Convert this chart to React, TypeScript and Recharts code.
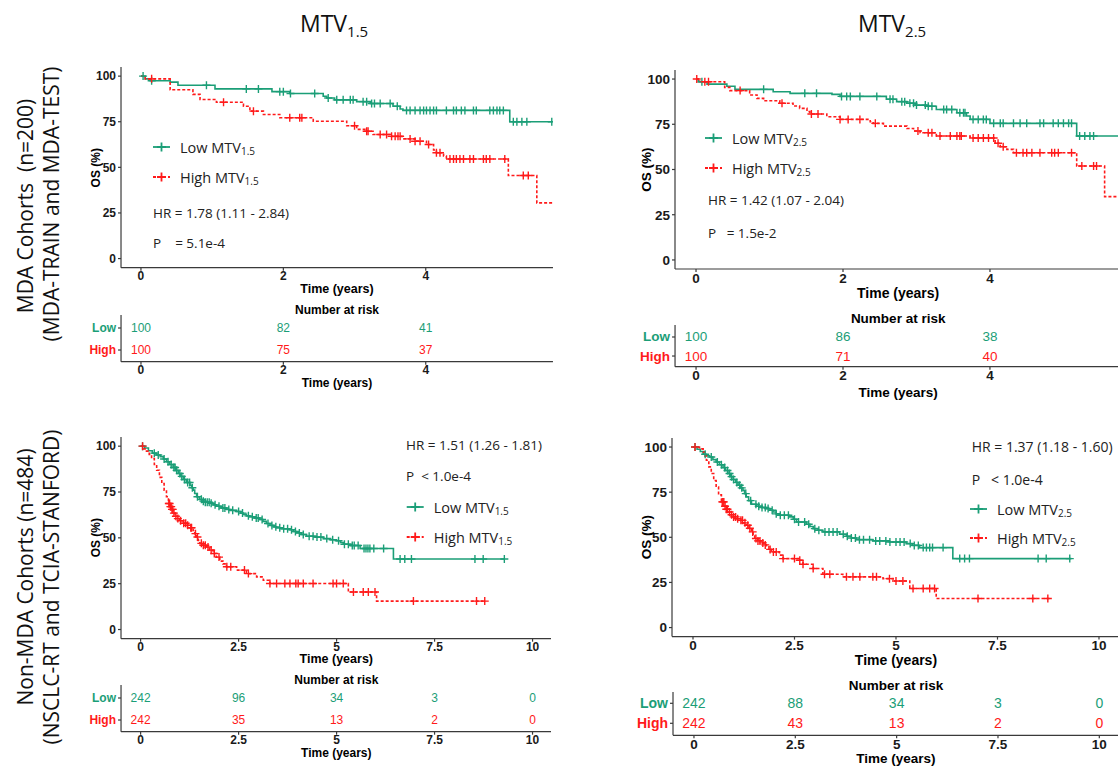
import React from 'react';
import { ComposedChart, Line, XAxis, YAxis } from 'recharts';

const GREEN = '#1b9e77';
const RED = '#ff1a1a';
const AXIS = '#3a3a3a';
const SANS = '"Open Sans", "Noto Sans", sans-serif';
const ARIAL = '"Liberation Sans", Arial, sans-serif';

type Step = [number, number];

// axis ticks
const osTicks = [0, 25, 50, 75, 100];
const mdaTimeTicks = [0, 2, 4];
const nonMdaTimeTicks = [0, 2.5, 5, 7.5, 10];

// ---- MDA cohorts, MTV 1.5 ----
const mda15Low: Step[] = [
  [0, 100], [0.06, 98.5], [0.13, 97.5], [0.41, 96.7], [0.52, 95], [1.04, 93], [1.84, 91.5], [2.09, 90.5],
  [2.56, 89], [2.61, 88], [2.72, 87], [3.03, 86], [3.22, 85], [3.54, 83.5], [3.64, 82], [3.68, 81.2],
  [5.18, 75], [5.78, 75],
];
const mda15LowCensor = [
  0.03, 0.15, 0.92, 1.48, 1.65, 1.95, 2.0, 2.1, 2.44, 2.63, 2.75, 2.84, 2.94, 2.98, 3.12, 3.17, 3.24, 3.28,
  3.36, 3.5, 3.6, 3.73, 3.78, 3.85, 3.92, 3.97, 4.01, 4.06, 4.11, 4.15, 4.29, 4.39, 4.43, 4.5, 4.55, 4.67,
  4.71, 4.9, 4.95, 5.0, 5.04, 5.09, 5.23, 5.28, 5.35, 5.42, 5.77,
];
const mda15High: Step[] = [
  [0, 100], [0.06, 98.5], [0.41, 92.5], [0.73, 90], [0.83, 87.2], [1.06, 85.7], [1.44, 83.5], [1.53, 80.8],
  [1.72, 79], [1.95, 77.2], [2.42, 75.3], [2.89, 72.8], [3.03, 70.8], [3.17, 69.8], [3.26, 68], [3.5, 67],
  [3.68, 65.6], [3.85, 64.3], [4.01, 62.5], [4.11, 59.5], [4.15, 58], [4.25, 56.2], [4.29, 54.6],
  [5.16, 45.5], [5.56, 30.5], [5.78, 30.5],
];
const mda15HighCensor = [
  0.15, 1.16, 1.58, 2.09, 2.23, 2.26, 3.0, 3.17, 3.19, 3.36, 3.45, 3.52, 3.57, 3.61, 3.64, 3.78, 3.85, 3.92,
  4.04, 4.15, 4.2, 4.34, 4.39, 4.43, 4.48, 4.53, 4.62, 4.67, 4.81, 4.85, 4.9, 5.11, 5.37, 5.44,
];
const mda15RiskLow = [100, 82, 41];
const mda15RiskHigh = [100, 75, 37];

// ---- MDA cohorts, MTV 2.5 ----
const mda25Low: Step[] = [
  [0, 100], [0.03, 98.5], [0.15, 97.2], [0.42, 96], [0.53, 94.3], [1.05, 93], [1.28, 92.1], [1.85, 91.5],
  [1.96, 90.4], [2.59, 88.8], [2.73, 87.5], [2.87, 86.6], [2.98, 85.6], [3.14, 85], [3.27, 83.2],
  [3.55, 81.4], [3.68, 79.6], [3.73, 77.7], [4.0, 75.5], [5.18, 68.5], [5.78, 68.5],
];
const mda25LowCensor = [
  0.08, 0.92, 1.48, 1.64, 1.98, 2.05, 2.1, 2.23, 2.46, 2.64, 2.68, 2.8, 2.84, 2.91, 2.96, 3.0, 3.12, 3.16,
  3.21, 3.37, 3.41, 3.48, 3.59, 3.64, 3.66, 3.77, 3.84, 3.91, 3.95, 4.05, 4.14, 4.18, 4.32, 4.41, 4.5, 4.68,
  4.73, 4.86, 4.93, 5.0, 5.07, 5.11, 5.22, 5.29, 5.36, 5.41,
];
const mda25High: Step[] = [
  [0, 100], [0.05, 98.5], [0.39, 95.4], [0.46, 93.6], [0.73, 91.2], [0.83, 89.3], [0.92, 88], [1.14, 86.6],
  [1.32, 85.1], [1.41, 83.8], [1.51, 82], [1.55, 80.7], [1.78, 79.2], [1.96, 77.7], [2.37, 76.4],
  [2.41, 75.5], [2.55, 74], [2.87, 72.7], [2.96, 71.3], [3.05, 70.3], [3.27, 68.5], [3.73, 67.4],
  [4.07, 64.5], [4.14, 62.6], [4.23, 61.1], [4.32, 59.3], [5.18, 51.9], [5.56, 35], [5.78, 35],
];
const mda25HighCensor = [
  0.01, 0.12, 0.17, 0.6, 1.17, 1.57, 1.66, 1.96, 2.07, 2.23, 2.44, 3.02, 3.16, 3.21, 3.32, 3.46, 3.55, 3.59,
  3.61, 3.77, 3.84, 3.91, 3.98, 4.05, 4.11, 4.18, 4.36, 4.45, 4.5, 4.57, 4.68, 4.84, 4.88, 4.93, 5.11, 5.25,
  5.41, 5.45,
];
const mda25RiskLow = [100, 86, 38];
const mda25RiskHigh = [100, 71, 40];

// ---- Non-MDA cohorts, MTV 1.5 ----
const non15Low: Step[] = [
  [0, 100], [0.1, 99], [0.2, 97.5], [0.3, 96.2], [0.4, 95.2], [0.5, 94.3], [0.58, 93], [0.66, 91.5],
  [0.74, 90], [0.83, 88.4], [0.9, 86.8], [0.96, 85.1], [1.02, 83.5], [1.09, 81.8], [1.17, 80.2],
  [1.26, 78.7], [1.3, 77.3], [1.34, 76], [1.38, 74.2], [1.43, 72.4], [1.5, 71], [1.56, 70], [1.65, 69.4],
  [1.77, 68.9], [1.85, 68], [1.94, 67.2], [2.05, 66.3], [2.2, 65.5], [2.28, 65], [2.45, 64.4],
  [2.55, 63.5], [2.62, 62.8], [2.7, 62], [2.79, 61.5], [2.9, 60.8], [3.04, 60], [3.12, 59], [3.21, 57.8],
  [3.3, 56.8], [3.4, 56], [3.47, 55.5], [3.6, 55], [3.81, 54.4], [3.9, 53.5], [3.98, 52.7], [4.1, 51.8],
  [4.23, 50.9], [4.45, 50.4], [4.66, 49.6], [4.85, 49], [5.0, 48.4], [5.1, 47.5], [5.17, 46.5],
  [5.35, 45.8], [5.6, 44.2], [6.45, 38.5], [9.29, 38.5],
];
const non15LowCensor = [
  0.05, 0.35, 0.45, 0.6, 0.7, 0.78, 0.85, 0.88, 0.92, 1.0, 1.05, 1.12, 1.2, 1.25, 1.32, 1.45, 1.55, 1.6,
  1.65, 1.7, 1.75, 1.8, 1.9, 2.0, 2.1, 2.15, 2.25, 2.35, 2.5, 2.6, 2.75, 2.85, 2.95, 3.0, 3.1, 3.25, 3.35,
  3.45, 3.55, 3.65, 3.75, 3.85, 3.95, 4.05, 4.15, 4.3, 4.4, 4.5, 4.6, 4.75, 4.9, 5.05, 5.2, 5.3, 5.4, 5.45,
  5.55, 5.7, 5.75, 5.8, 5.85, 5.95, 6.2, 6.62, 6.74, 6.91, 8.53, 8.74, 9.28,
];
const non15High: Step[] = [
  [0, 100], [0.07, 98.5], [0.15, 97.3], [0.22, 95.5], [0.28, 93.3], [0.35, 90], [0.41, 86.9], [0.48, 83],
  [0.54, 79.6], [0.6, 76], [0.66, 72.4], [0.71, 68.7], [0.75, 67], [0.79, 65.5], [0.84, 63.5], [0.88, 61.8],
  [0.94, 60.5], [1.0, 59.3], [1.08, 58], [1.17, 56.9], [1.25, 55.5], [1.34, 54], [1.38, 52.3], [1.43, 50.5],
  [1.47, 48.6], [1.51, 47], [1.6, 46], [1.68, 45], [1.76, 43.3], [1.85, 41.5], [1.93, 39.5], [2.02, 37.3],
  [2.1, 35.8], [2.19, 34.2], [2.45, 32.4], [2.7, 30.5], [2.96, 28.7], [3.13, 26.9], [3.3, 25.1],
  [5.3, 20.5], [6.02, 15.5], [8.78, 15.5],
];
const non15HighCensor = [
  0.05, 0.72, 0.74, 0.76, 0.78, 0.8, 0.82, 0.85, 0.9, 0.95, 1.02, 1.1, 1.15, 1.2, 1.28, 1.3, 1.4, 1.45,
  1.55, 1.6, 1.65, 1.72, 1.8, 1.88, 2.0, 2.2, 2.3, 2.65, 2.75, 3.3, 3.47, 3.68, 3.81, 3.96, 4.02, 4.15,
  4.4, 4.91, 5.0, 5.17, 5.43, 5.68, 5.81, 5.98, 6.96, 8.57, 8.78,
];
const non15RiskLow = [242, 96, 34, 3, 0];
const non15RiskHigh = [242, 35, 13, 2, 0];

// ---- Non-MDA cohorts, MTV 2.5 ----
const non25Low: Step[] = [
  [0, 100], [0.1, 98.8], [0.18, 97.5], [0.25, 96], [0.33, 95.2], [0.41, 94.5], [0.49, 93], [0.57, 91.7],
  [0.65, 90.2], [0.74, 88.6], [0.8, 87], [0.86, 85.3], [0.92, 83.6], [0.99, 82], [1.05, 80.4], [1.11, 78.8],
  [1.17, 77.4], [1.23, 76], [1.27, 74.2], [1.31, 72.4], [1.37, 70.3], [1.44, 68.3], [1.56, 67.2],
  [1.7, 66.5], [1.81, 65.9], [1.9, 65], [1.97, 64], [2.05, 63], [2.13, 62.2], [2.38, 61.3], [2.47, 60],
  [2.55, 58.5], [2.79, 57.2], [2.88, 56], [2.96, 54.8], [3.08, 53.9], [3.2, 53], [3.61, 51.7], [3.78, 50.6],
  [3.9, 49.6], [4.02, 48.7], [4.43, 48], [4.84, 47.4], [5.25, 46.5], [5.4, 45.5], [5.58, 44.3],
  [6.4, 38.2], [9.32, 38.2],
];
const non25LowCensor = [
  0.05, 0.3, 0.45, 0.6, 0.7, 0.78, 0.85, 0.9, 0.95, 1.0, 1.08, 1.15, 1.2, 1.3, 1.42, 1.55, 1.62, 1.7, 1.78,
  1.85, 1.95, 2.05, 2.15, 2.25, 2.35, 2.5, 2.6, 2.75, 2.85, 3.0, 3.1, 3.25, 3.35, 3.45, 3.55, 3.7, 3.8, 3.9,
  4.0, 4.1, 4.2, 4.35, 4.5, 4.6, 4.75, 4.85, 5.0, 5.1, 5.2, 5.35, 5.45, 5.55, 5.67, 5.75, 5.83, 5.9, 6.16,
  6.57, 6.69, 6.81, 8.5, 8.7, 9.28,
];
const non25High: Step[] = [
  [0, 100], [0.16, 99], [0.25, 97.3], [0.29, 95], [0.33, 92.7], [0.39, 89], [0.45, 85.3], [0.51, 81.5],
  [0.57, 77.9], [0.63, 73.5], [0.7, 69.6], [0.78, 67.2], [0.82, 65.5], [0.86, 64], [0.93, 62.5],
  [0.99, 61.3], [1.07, 60.3], [1.15, 59.4], [1.23, 58], [1.31, 56.7], [1.38, 55], [1.44, 53], [1.48, 51],
  [1.52, 49.3], [1.6, 48], [1.68, 46.9], [1.75, 45.8], [1.81, 44.7], [1.87, 43.3], [1.93, 41.9],
  [2.13, 40.1], [2.22, 38.2], [2.63, 37.3], [2.71, 35.1], [2.96, 32.7], [3.2, 29.5], [3.69, 28.1],
  [4.68, 27.1], [4.93, 25.8], [5.34, 21.6], [5.99, 16.1], [8.78, 16.1],
];
const non25HighCensor = [
  0.05, 0.72, 0.74, 0.76, 0.79, 0.82, 0.85, 0.9, 0.95, 1.0, 1.05, 1.1, 1.18, 1.22, 1.28, 1.35, 1.4, 1.47,
  1.55, 1.6, 1.65, 1.72, 1.78, 1.9, 1.98, 2.05, 2.22, 2.5, 2.63, 2.71, 2.96, 3.24, 3.37, 3.78, 3.94, 4.11,
  4.43, 4.52, 4.84, 5.0, 5.17, 5.42, 5.67, 5.83, 5.95, 7.02, 8.37, 8.74,
];
const non25RiskLow = [242, 88, 34, 3, 0];
const non25RiskHigh = [242, 43, 13, 2, 0];

// ---- helpers ----
const survAt = (steps: Step[], t: number) => {
  let s = steps[0][1];
  for (const [ti, si] of steps) {
    if (ti <= t) s = si;
    else break;
  }
  return s;
};
const toLine = (steps: Step[]) => steps.map(([t, s]) => ({ t, s }));
const toCensor = (steps: Step[], times: number[]) => times.map((t) => ({ t, s: survAt(steps, t) }));

const plusDot = (color: string) => (p: any) => {
  if (p.cx == null || p.cy == null) return <g key={`n${p.index}`} />;
  return (
    <path
      key={`c${p.index}`}
      d={`M${p.cx - 4},${p.cy}h8M${p.cx},${p.cy - 4}v8`}
      stroke={color}
      strokeWidth={1.4}
      fill="none"
    />
  );
};

const textDot = (color: string, size: number) => (p: any) => {
  if (p.cx == null || p.cy == null) return <g key={`n${p.index}`} />;
  return (
    <text key={`r${p.index}`} x={p.cx} y={p.cy} textAnchor="middle" dominantBaseline="central"
      fontFamily={ARIAL} fontSize={size} fill={color}>
      {p.payload.n}
    </text>
  );
};

interface Box { left: number; top: number; right: number; bottom: number }
interface Panel {
  km: Box; risk: Box; xDomain: [number, number]; xTicks: number[]; riskY: [number, number];
  low: Step[]; lowC: number[]; high: Step[]; highC: number[];
  riskLow: number[]; riskHigh: number[];
  sub: string; hr: string; p: string;
  legendX: number; legendY: [number, number]; hrX: number; hrY: [number, number];
  osX: number; timeY: number; narY: number; riskTimeY: number;
  tickFont: number; riskFont: number; statFont: number;
}

const panels: Panel[] = [
  {
    km: { left: 121, top: 67.4, right: 553, bottom: 268.1 },
    risk: { left: 121, top: 315, right: 553, bottom: 361.7 },
    xDomain: [-0.28, 5.787], xTicks: mdaTimeTicks, riskY: [0.47, 2.59],
    low: mda15Low, lowC: mda15LowCensor, high: mda15High, highC: mda15HighCensor,
    riskLow: mda15RiskLow, riskHigh: mda15RiskHigh,
    sub: '1.5', hr: 'HR = 1.78 (1.11 - 2.84)', p: 'P    = 5.1e-4',
    legendX: 153, legendY: [147, 177], hrX: 153, hrY: [213, 243],
    osX: 96, timeY: 289, narY: 310, riskTimeY: 383,
    tickFont: 12, riskFont: 12, statFont: 13.5,
  },
  {
    km: { left: 675, top: 70, right: 1121.3, bottom: 269 },
    risk: { left: 675, top: 325, right: 1121.3, bottom: 366.7 },
    xDomain: [-0.286, 5.787], xTicks: mdaTimeTicks, riskY: [0.44, 2.63],
    low: mda25Low, lowC: mda25LowCensor, high: mda25High, highC: mda25HighCensor,
    riskLow: mda25RiskLow, riskHigh: mda25RiskHigh,
    sub: '2.5', hr: 'HR = 1.42 (1.07 - 2.04)', p: 'P   = 1.5e-2',
    legendX: 705, legendY: [138, 168], hrX: 708, hrY: [200, 233],
    osX: 646, timeY: 293, narY: 318, riskTimeY: 392,
    tickFont: 13.5, riskFont: 13.5, statFont: 13.5,
  },
  {
    km: { left: 121.1, top: 436.8, right: 551.5, bottom: 638.5 },
    risk: { left: 121.1, top: 685, right: 551.5, bottom: 731.7 },
    xDomain: [-0.5, 10.48], xTicks: nonMdaTimeTicks, riskY: [0.47, 2.59],
    low: non15Low, lowC: non15LowCensor, high: non15High, highC: non15HighCensor,
    riskLow: non15RiskLow, riskHigh: non15RiskHigh,
    sub: '1.5', hr: 'HR = 1.51 (1.26 - 1.81)', p: 'P  < 1.0e-4',
    legendX: 406.7, legendY: [507, 537], hrX: 406, hrY: [445, 476],
    osX: 96, timeY: 659, narY: 680, riskTimeY: 753,
    tickFont: 12, riskFont: 12, statFont: 13.5,
  },
  {
    km: { left: 672.3, top: 437.7, right: 1119.6, bottom: 636.3 },
    risk: { left: 673, top: 691.7, right: 1119.6, bottom: 735 },
    xDomain: [-0.517, 10.5], xTicks: nonMdaTimeTicks, riskY: [0.4, 2.565],
    low: non25Low, lowC: non25LowCensor, high: non25High, highC: non25HighCensor,
    riskLow: non25RiskLow, riskHigh: non25RiskHigh,
    sub: '2.5', hr: 'HR = 1.37 (1.18 - 1.60)', p: 'P   < 1.0e-4',
    legendX: 970, legendY: [509, 538], hrX: 971.7, hrY: [446, 479],
    osX: 646, timeY: 660, narY: 685, riskTimeY: 758.5,
    tickFont: 13.5, riskFont: 14, statFont: 14,
  },
];

// row titles on the left: [text, x, y]
const rowTitles: [string, number, number][] = [
  ['MDA Cohorts  (n=200)', 25, 206],
  ['(MDA-TRAIN and MDA-TEST)', 51, 204],
  ['Non-MDA Cohorts (n=484)', 25, 577],
  ['(NSCLC-RT and TCIA-STANFORD)', 51, 587],
];

const riskTimesFor = (p: Panel) => p.xTicks.slice(0, p.riskLow.length);

const YW = 40;
const XH = 22;

function KMChart({ p }: { p: Panel }) {
  const w = p.km.right - p.km.left;
  const h = p.km.bottom - p.km.top;
  const tick = { fontSize: p.tickFont, fontWeight: 700, fill: '#1a1a1a', fontFamily: ARIAL };
  return (
    <div style={{ position: 'absolute', left: p.km.left - YW, top: p.km.top }}>
      <ComposedChart width={w + YW} height={h + XH} margin={{ top: 0, right: 0, bottom: 0, left: 0 }}>
        <XAxis type="number" dataKey="t" domain={p.xDomain} ticks={p.xTicks} interval={0} allowDataOverflow
          height={XH} tickSize={3} tickMargin={1} tick={tick} stroke={AXIS} strokeWidth={1.2} />
        <YAxis type="number" domain={[-5, 105]} ticks={osTicks} interval={0} allowDataOverflow
          width={YW} tickSize={3} tickMargin={2} tick={tick} stroke={AXIS} strokeWidth={1.2} />
        <Line data={toLine(p.low)} dataKey="s" type="stepAfter" stroke={GREEN} strokeWidth={1.6}
          dot={false} activeDot={false} isAnimationActive={false} />
        <Line data={toLine(p.high)} dataKey="s" type="stepAfter" stroke={RED} strokeWidth={1.6}
          strokeDasharray="3 2" dot={false} activeDot={false} isAnimationActive={false} />
        <Line data={toCensor(p.low, p.lowC)} dataKey="s" stroke="none" dot={plusDot(GREEN)}
          activeDot={false} isAnimationActive={false} />
        <Line data={toCensor(p.high, p.highC)} dataKey="s" stroke="none" dot={plusDot(RED)}
          activeDot={false} isAnimationActive={false} />
      </ComposedChart>
    </div>
  );
}

function RiskChart({ p }: { p: Panel }) {
  const w = p.risk.right - p.risk.left;
  const h = p.risk.bottom - p.risk.top;
  const tick = { fontSize: p.tickFont, fontWeight: 700, fill: '#1a1a1a', fontFamily: ARIAL };
  const times = riskTimesFor(p);
  const lowRows = times.map((t, i) => ({ t, r: 2, n: p.riskLow[i] }));
  const highRows = times.map((t, i) => ({ t, r: 1, n: p.riskHigh[i] }));
  const rowTick = (props: any) => {
    const isLow = props.payload.value === 2;
    return (
      <text x={props.x} y={props.y} textAnchor="end" dominantBaseline="central" fontFamily={ARIAL}
        fontWeight={700} fontSize={p.riskFont} fill={isLow ? GREEN : RED}>
        {isLow ? 'Low' : 'High'}
      </text>
    );
  };
  return (
    <div style={{ position: 'absolute', left: p.risk.left - YW, top: p.risk.top }}>
      <ComposedChart width={w + YW} height={h + XH} margin={{ top: 0, right: 0, bottom: 0, left: 0 }}>
        <XAxis type="number" dataKey="t" domain={p.xDomain} ticks={p.xTicks} interval={0} allowDataOverflow
          height={XH} tickSize={3} tickMargin={1} tick={tick} stroke={AXIS} strokeWidth={1.2} />
        <YAxis type="number" domain={p.riskY} ticks={[1, 2]} interval={0} allowDataOverflow
          width={YW} tickSize={3} tickMargin={2} tick={rowTick} stroke={AXIS} strokeWidth={1.2} />
        <Line data={lowRows} dataKey="r" stroke="none" dot={textDot(GREEN, p.riskFont)}
          activeDot={false} isAnimationActive={false} />
        <Line data={highRows} dataKey="r" stroke="none" dot={textDot(RED, p.riskFont)}
          activeDot={false} isAnimationActive={false} />
      </ComposedChart>
    </div>
  );
}

function LegendKey({ x, y, color, dashed }: { x: number; y: number; color: string; dashed?: boolean }) {
  return (
    <g>
      <line x1={x} x2={x + 17} y1={y} y2={y} stroke={color} strokeWidth={1.8}
        strokeDasharray={dashed ? '3 2' : undefined} />
      <path d={`M${x + 4},${y}h9M${x + 8.5},${y - 4.5}v9`} stroke={color} strokeWidth={1.8} fill="none" />
    </g>
  );
}

function Annotations({ p }: { p: Panel }) {
  const cx = (p.km.left + p.km.right) / 2;
  const cy = (p.km.top + p.km.bottom) / 2;
  const lg = 14.5;
  const textX = p.legendX + 27;
  const pre = { whiteSpace: 'pre' as const };
  return (
    <g>
      <text x={p.osX} y={cy} transform={`rotate(-90 ${p.osX} ${cy})`} textAnchor="middle"
        dominantBaseline="central" fontFamily={ARIAL} fontWeight={700} fontSize={p.tickFont}>OS (%)</text>
      <text x={cx} y={p.timeY} textAnchor="middle" dominantBaseline="central" fontFamily={ARIAL}
        fontWeight={700} fontSize={p.tickFont + 0.5}>Time (years)</text>
      <text x={cx} y={p.narY} textAnchor="middle" dominantBaseline="central" fontFamily={ARIAL}
        fontWeight={700} fontSize={p.tickFont}>Number at risk</text>
      <text x={cx} y={p.riskTimeY} textAnchor="middle" dominantBaseline="central" fontFamily={ARIAL}
        fontWeight={700} fontSize={p.tickFont}>Time (years)</text>

      <LegendKey x={p.legendX} y={p.legendY[0]} color={GREEN} />
      <text x={textX} y={p.legendY[0]} dominantBaseline="central" fontFamily={SANS} fontSize={lg} fill="#222">
        Low MTV<tspan fontSize={10} dy={4}>{p.sub}</tspan>
      </text>
      <LegendKey x={p.legendX} y={p.legendY[1]} color={RED} dashed />
      <text x={textX} y={p.legendY[1]} dominantBaseline="central" fontFamily={SANS} fontSize={lg} fill="#222">
        High MTV<tspan fontSize={10} dy={4}>{p.sub}</tspan>
      </text>

      <text x={p.hrX} y={p.hrY[0]} dominantBaseline="central" fontFamily={SANS} fontSize={p.statFont}
        fill="#222" style={pre}>{p.hr}</text>
      <text x={p.hrX} y={p.hrY[1]} dominantBaseline="central" fontFamily={SANS} fontSize={p.statFont}
        fill="#222" style={pre}>{p.p}</text>
    </g>
  );
}

export default function App() {
  return (
    <div style={{ position: 'absolute', left: 0, top: 0, width: 1118, height: 768, overflow: 'hidden', background: '#fff' }}>
      {panels.map((p, i) => (
        <React.Fragment key={i}>
          <KMChart p={p} />
          <RiskChart p={p} />
        </React.Fragment>
      ))}
      <svg width={1118} height={768} style={{ position: 'absolute', left: 0, top: 0, pointerEvents: 'none' }}>
        <text x={300} y={32} fontFamily={SANS} fontSize={23} fill="#111">
          MTV<tspan fontSize={15} dy={5}>1.5</tspan>
        </text>
        <text x={858} y={32} fontFamily={SANS} fontSize={23} fill="#111">
          MTV<tspan fontSize={15} dy={5}>2.5</tspan>
        </text>

        {rowTitles.map(([label, x, y]) => (
          <text key={label} x={x} y={y} transform={`rotate(-90 ${x} ${y})`} textAnchor="middle"
            dominantBaseline="central" fontFamily={SANS} fontSize={21} fill="#111"
            style={{ whiteSpace: 'pre' }}>{label}</text>
        ))}

        {panels.map((p, i) => (
          <Annotations key={i} p={p} />
        ))}
      </svg>
    </div>
  );
}
